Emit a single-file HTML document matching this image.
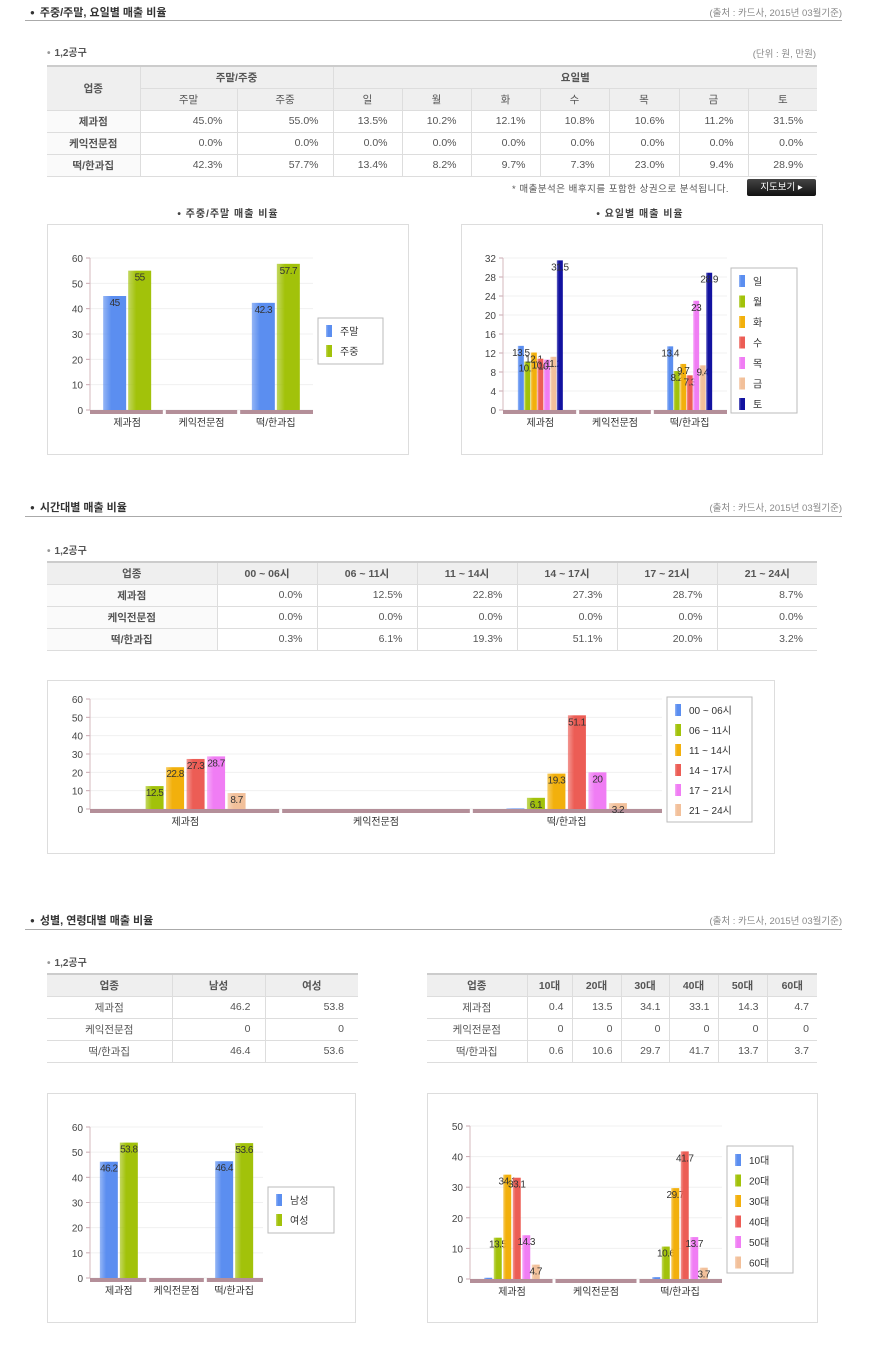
<!DOCTYPE html>
<html><head><meta charset="utf-8">
<style>
*{margin:0;padding:0;box-sizing:border-box}
body{width:890px;height:1350px;background:#fff;position:relative;font-family:"Liberation Sans","Noto Sans CJK KR",sans-serif;color:#444;overflow:hidden}
.abs{position:absolute}
.h2{font-size:11px;font-weight:bold;color:#333}
.h2:before{content:"●";font-size:8px;margin-right:5px;vertical-align:1px}
.hl{position:absolute;left:25px;width:817px;height:1px;background:#aaa}
.src{font-size:9.5px;color:#888;text-align:right}
.sub{font-size:10px;font-weight:bold;color:#555}
.sub:before{content:"•";color:#999;margin-right:4px}
table{position:absolute;border-collapse:collapse;font-size:10.5px;table-layout:fixed}
table{border-top:2px solid #ccc;border-bottom:1px solid #aaa}
td,th{border:1px solid #ddd;border-top:none;height:22px;color:#555}
tr td:first-child,tr th:first-child{border-left:none}
tr td:last-child,tr th:last-child{border-right:none}
th{background:#efefef;font-weight:bold;text-align:center;color:#555}
td{text-align:right;padding-right:14px}
td.n{text-align:center;font-weight:bold;padding:0;background:#fafafa}
td.m{text-align:center;padding:0}
.box{position:absolute;border:1px solid #ddd;background:#fff}
.ctitle{font-size:10px;font-weight:bold;color:#444;text-align:center;letter-spacing:1px}
</style></head><body>

<div class="abs h2" style="left:30px;top:4px">주중/주말, 요일별 매출 비율</div>
<div class="abs src" style="right:48px;top:5px">(출처 : 카드사, 2015년 03월기준)</div>
<div class="hl" style="top:20px"></div>
<div class="abs sub" style="left:47px;top:44px">1,2공구</div>
<div class="abs src" style="right:74px;top:46px">(단위 : 원, 만원)</div>

<table style="left:47px;top:65px;width:770px">
<colgroup><col style="width:93px"><col style="width:97px"><col style="width:96px"><col style="width:69px"><col style="width:69px"><col style="width:69px"><col style="width:69px"><col style="width:70px"><col style="width:69px"><col style="width:69px"></colgroup>
<tr><th rowspan="2">업종</th><th colspan="2">주말/주중</th><th colspan="7">요일별</th></tr>
<tr><th style="font-weight:normal">주말</th><th style="font-weight:normal">주중</th><th style="font-weight:normal">일</th><th style="font-weight:normal">월</th><th style="font-weight:normal">화</th><th style="font-weight:normal">수</th><th style="font-weight:normal">목</th><th style="font-weight:normal">금</th><th style="font-weight:normal">토</th></tr>
<tr><td class="n">제과점</td><td>45.0%</td><td>55.0%</td><td>13.5%</td><td>10.2%</td><td>12.1%</td><td>10.8%</td><td>10.6%</td><td>11.2%</td><td>31.5%</td></tr>
<tr><td class="n">케익전문점</td><td>0.0%</td><td>0.0%</td><td>0.0%</td><td>0.0%</td><td>0.0%</td><td>0.0%</td><td>0.0%</td><td>0.0%</td><td>0.0%</td></tr>
<tr><td class="n">떡/한과집</td><td>42.3%</td><td>57.7%</td><td>13.4%</td><td>8.2%</td><td>9.7%</td><td>7.3%</td><td>23.0%</td><td>9.4%</td><td>28.9%</td></tr>
</table>
<div class="abs" style="left:512px;top:181px;font-size:9.5px;color:#555;letter-spacing:0.5px">* 매출분석은 배후지를 포함한 상권으로 분석됩니다.</div>
<div class="abs" style="left:747px;top:179px;width:69px;height:17px;background:linear-gradient(#444,#111);color:#fff;font-size:9.5px;text-align:center;line-height:17px;border-radius:2px">지도보기 ▸</div>

<div class="abs ctitle" style="left:128px;top:205px;width:200px">• 주중/주말 매출 비율</div>
<div class="abs ctitle" style="left:540px;top:205px;width:200px">• 요일별 매출 비율</div>
<div class="box" style="left:47px;top:224px;width:362px;height:231px"></div>
<div class="box" style="left:461px;top:224px;width:362px;height:231px"></div>

<div class="abs h2" style="left:30px;top:499px">시간대별 매출 비율</div>
<div class="abs src" style="right:48px;top:500px">(출처 : 카드사, 2015년 03월기준)</div>
<div class="hl" style="top:516px"></div>
<div class="abs sub" style="left:47px;top:542px">1,2공구</div>
<table style="left:47px;top:561px;width:770px">
<colgroup><col style="width:170px"><col style="width:100px"><col style="width:100px"><col style="width:100px"><col style="width:100px"><col style="width:100px"><col style="width:100px"></colgroup>
<tr><th>업종</th><th>00 ~ 06시</th><th>06 ~ 11시</th><th>11 ~ 14시</th><th>14 ~ 17시</th><th>17 ~ 21시</th><th>21 ~ 24시</th></tr>
<tr><td class="n">제과점</td><td>0.0%</td><td>12.5%</td><td>22.8%</td><td>27.3%</td><td>28.7%</td><td>8.7%</td></tr>
<tr><td class="n">케익전문점</td><td>0.0%</td><td>0.0%</td><td>0.0%</td><td>0.0%</td><td>0.0%</td><td>0.0%</td></tr>
<tr><td class="n">떡/한과집</td><td>0.3%</td><td>6.1%</td><td>19.3%</td><td>51.1%</td><td>20.0%</td><td>3.2%</td></tr>
</table>
<div class="box" style="left:47px;top:680px;width:728px;height:174px"></div>

<div class="abs h2" style="left:30px;top:912px">성별, 연령대별 매출 비율</div>
<div class="abs src" style="right:48px;top:913px">(출처 : 카드사, 2015년 03월기준)</div>
<div class="hl" style="top:929px"></div>
<div class="abs sub" style="left:47px;top:954px">1,2공구</div>
<table style="left:47px;top:973px;width:311px">
<colgroup><col style="width:125px"><col style="width:93px"><col style="width:93px"></colgroup>
<tr><th>업종</th><th>남성</th><th>여성</th></tr>
<tr><td class="m">제과점</td><td>46.2</td><td>53.8</td></tr>
<tr><td class="m">케익전문점</td><td>0</td><td>0</td></tr>
<tr><td class="m">떡/한과집</td><td>46.4</td><td>53.6</td></tr>
</table>
<table style="left:427px;top:973px;width:390px">
<colgroup><col style="width:100px"><col style="width:45px"><col style="width:49px"><col style="width:48px"><col style="width:49px"><col style="width:49px"><col style="width:50px"></colgroup>
<tr><th>업종</th><th>10대</th><th>20대</th><th>30대</th><th>40대</th><th>50대</th><th>60대</th></tr>
<tr><td class="m">제과점</td><td style="padding-right:8px">0.4</td><td style="padding-right:8px">13.5</td><td style="padding-right:8px">34.1</td><td style="padding-right:8px">33.1</td><td style="padding-right:8px">14.3</td><td style="padding-right:8px">4.7</td></tr>
<tr><td class="m">케익전문점</td><td style="padding-right:8px">0</td><td style="padding-right:8px">0</td><td style="padding-right:8px">0</td><td style="padding-right:8px">0</td><td style="padding-right:8px">0</td><td style="padding-right:8px">0</td></tr>
<tr><td class="m">떡/한과집</td><td style="padding-right:8px">0.6</td><td style="padding-right:8px">10.6</td><td style="padding-right:8px">29.7</td><td style="padding-right:8px">41.7</td><td style="padding-right:8px">13.7</td><td style="padding-right:8px">3.7</td></tr>
</table>
<div class="box" style="left:47px;top:1093px;width:309px;height:230px"></div>
<div class="box" style="left:427px;top:1093px;width:391px;height:230px"></div>

<svg id="svg" class="abs" style="left:0;top:0" width="890" height="1350"></svg>

<script>
// ----- shared data -----
const categories = ['제과점', '케익전문점', '떡/한과집'];
// chart1: weekend/weekday
const weekSeries = ['주말', '주중'];
const weekValues = [[45, 0, 42.3], [55, 0, 57.7]];
const weekTicks = [0, 10, 20, 30, 40, 50, 60];
// chart2: day of week
const daySeries = ['일', '월', '화', '수', '목', '금', '토'];
const dayValues = [[13.5, 0, 13.4], [10.2, 0, 8.2], [12.1, 0, 9.7], [10.8, 0, 7.3], [10.6, 0, 23], [11.2, 0, 9.4], [31.5, 0, 28.9]];
const dayTicks = [0, 4, 8, 12, 16, 20, 24, 28, 32];
// chart3: time of day
const timeSeries = ['00 ~ 06시', '06 ~ 11시', '11 ~ 14시', '14 ~ 17시', '17 ~ 21시', '21 ~ 24시'];
const timeValues = [[0, 0, 0.3], [12.5, 0, 6.1], [22.8, 0, 19.3], [27.3, 0, 51.1], [28.7, 0, 20], [8.7, 0, 3.2]];
const timeTicks = [0, 10, 20, 30, 40, 50, 60];
// chart4: gender
const genderSeries = ['남성', '여성'];
const genderValues = [[46.2, 0, 46.4], [53.8, 0, 53.6]];
const genderTicks = [0, 10, 20, 30, 40, 50, 60];
// chart5: age
const ageSeries = ['10대', '20대', '30대', '40대', '50대', '60대'];
const ageValues = [[0.4, 0, 0.6], [13.5, 0, 10.6], [34.1, 0, 29.7], [33.1, 0, 41.7], [14.3, 0, 13.7], [4.7, 0, 3.7]];
const ageTicks = [0, 10, 20, 30, 40, 50];

const colors = ['#5b8ef0', '#a2c20a', '#f2b00c', '#ec5d55', '#f07df4', '#f2c09a', '#1212a0'];
const NS = 'http://www.w3.org/2000/svg';
const svg = document.getElementById('svg');
const defs = document.createElementNS(NS, 'defs');
svg.appendChild(defs);
colors.forEach((c, i) => {
  const g = document.createElementNS(NS, 'linearGradient');
  g.setAttribute('id', 'g' + i);
  g.innerHTML = `<stop offset="0" stop-color="${c}" stop-opacity="0.65"/><stop offset="0.35" stop-color="${c}"/><stop offset="1" stop-color="${c}"/>`;
  defs.appendChild(g);
});
function el(tag, attrs, parent) {
  const e = document.createElementNS(NS, tag);
  for (const k in attrs) e.setAttribute(k, attrs[k]);
  (parent || svg).appendChild(e);
  return e;
}

function drawChart(name, cfg, series, values, ticks) {
  const grp = el('g', {});
  
  
  const max = ticks[ticks.length - 1];
  const y = v => cfg.y0 - (v / max) * (cfg.y0 - cfg.yTop);
  const cw = (cfg.x1 - cfg.x0) / categories.length;
  const x = i => cfg.x0 + cw * i;
  // grid + ticks
  ticks.forEach(t => {
    const gl = el('line', {x1: cfg.x0, x2: cfg.x1, y1: y(t), y2: y(t), stroke: '#f0f0f0'}, grp);
    
    
    el('line', {x1: cfg.x0 - 4, x2: cfg.x0, y1: y(t), y2: y(t), stroke: '#c9a8b0'}, grp);
    const tl = el('text', {x: cfg.x0 - 7, y: y(t) + 4, 'text-anchor': 'end', 'font-size': 10, fill: '#444'}, grp);
    tl.textContent = t;
    
    
  });
  el('line', {x1: cfg.x0, x2: cfg.x0, y1: cfg.yTop, y2: cfg.y0, stroke: '#d4b8be'}, grp);
  // baseline segments
  categories.forEach((c, i) => {
    const seg = el('rect', {x: x(i) + (i ? 1.5 : 0), y: cfg.y0, width: cw - (i ? 1.5 : 0) - (i < categories.length - 1 ? 1.5 : 0), height: 4, fill: '#b48f99'}, grp);
    
    
    const cl = el('text', {x: x(i) + cw / 2, y: cfg.y0 + 16, 'text-anchor': 'middle', 'font-size': 10, fill: '#333'}, grp);
    cl.textContent = c;
    
    
  });
  // bars
  const n = series.length, bw = cfg.bw, gap = cfg.gap;
  const gw = n * bw + (n - 1) * gap;
  series.forEach((s, si) => {
    categories.forEach((c, ci) => {
      const v = values[si][ci];
      if (!v) return;
      const bx = x(ci) + cw / 2 - gw / 2 + si * (bw + gap);
      const r = el('rect', {x: bx, y: y(v), width: bw, height: cfg.y0 - y(v), fill: 'url(#g' + (cfg.colorMap ? cfg.colorMap[si] : si) + ')'}, grp);
      
      
      if (v >= 1) {
        const t = el('text', {x: bx + bw / 2, y: y(v) + 10, 'text-anchor': 'middle', 'font-size': 10, fill: '#333', 'letter-spacing': '-0.5'}, grp);
        t.textContent = v;
        
        
      }
    });
  });
  // legend
  const L = cfg.legend;
  const lb = el('rect', {x: L.x, y: L.y, width: L.w, height: L.h, fill: '#fff', stroke: '#bbb'}, grp);
  
  
  series.forEach((s, si) => {
    const ly = L.y + L.pad + si * L.step;
    const sw = el('rect', {x: L.x + 8, y: ly, width: 6, height: 12, fill: 'url(#g' + (cfg.colorMap ? cfg.colorMap[si] : si) + ')'}, grp);
    
    
    const lt = el('text', {x: L.x + 22, y: ly + 10, 'font-size': 10, fill: '#333'}, grp);
    lt.textContent = s;
    
    
  });
}

drawChart('weekend-chart', {x0: 90, x1: 313, yTop: 258, y0: 410, bw: 23, gap: 2,
  legend: {x: 318, y: 318, w: 65, h: 46, pad: 7, step: 20}}, weekSeries, weekValues, weekTicks);
drawChart('day-chart', {x0: 503, x1: 727, yTop: 258, y0: 410, bw: 6, gap: 0.5,
  legend: {x: 731, y: 268, w: 66, h: 145, pad: 7, step: 20.5}}, daySeries, dayValues, dayTicks);
drawChart('time-chart', {x0: 90, x1: 662, yTop: 699, y0: 809, bw: 18, gap: 2.5,
  legend: {x: 667, y: 697, w: 85, h: 125, pad: 7, step: 20}}, timeSeries, timeValues, timeTicks);
drawChart('gender-chart', {x0: 90, x1: 263, yTop: 1127, y0: 1278, bw: 18, gap: 2,
  legend: {x: 268, y: 1187, w: 66, h: 46, pad: 7, step: 20}}, genderSeries, genderValues, genderTicks);
drawChart('age-chart', {x0: 470, x1: 722, yTop: 1126, y0: 1279, bw: 8, gap: 1.5,
  legend: {x: 727, y: 1146, w: 66, h: 127, pad: 8, step: 20.5}}, ageSeries, ageValues, ageTicks);
</script>
</body></html>
